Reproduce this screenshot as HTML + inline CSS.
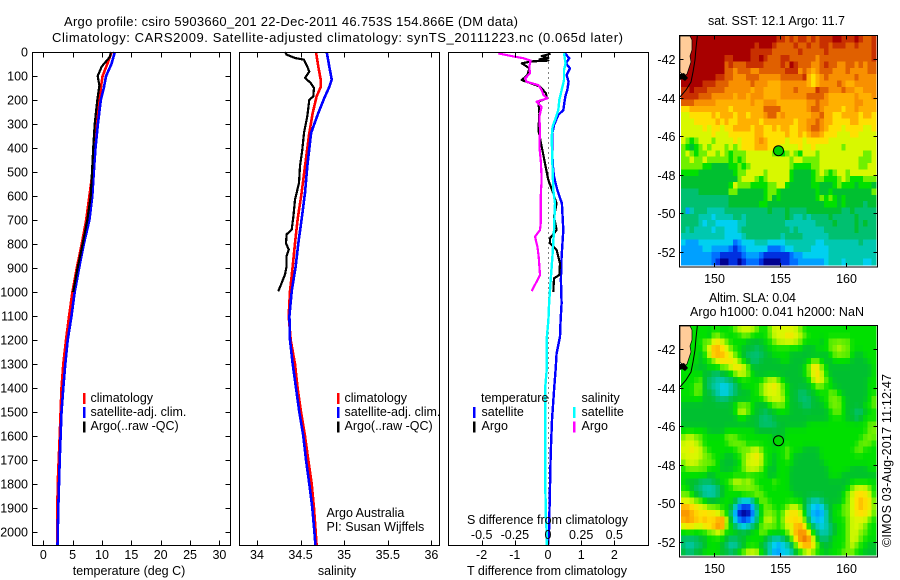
<!DOCTYPE html>
<html lang="en">
<head>
<meta charset="utf-8">
<title>Argo profile 5903660_201</title>
<style>
html,body{margin:0;padding:0;background:#fff;}
#chart{display:block;width:900px;height:580px;}
text{font-family:"Liberation Sans",Arial,sans-serif;font-size:12.5px;fill:#000;}
</style>
</head>
<body>
<svg id="chart" xmlns="http://www.w3.org/2000/svg" width="900" height="580" viewBox="0 0 900 580">
<rect x="0" y="0" width="900" height="580" fill="#fff"/>
<text x="64" y="26" font-size="13" style="font-size:13px" textLength="454">Argo profile: csiro 5903660_201 22-Dec-2011 46.753S 154.866E (DM data)</text>
<text x="52" y="42" style="font-size:13px" textLength="571">Climatology: CARS2009. Satellite-adjusted climatology: synTS_20111223.nc (0.065d later)</text>
<g id="layer-series"></g>
<text x="708" y="25" textLength="137">sat. SST: 12.1  Argo: 11.7</text>
<text x="709" y="302" textLength="87">Altim. SLA: 0.04</text>
<text x="690" y="316" textLength="174">Argo h1000: 0.041 h2000: NaN</text>
<text transform="translate(891,547) rotate(-90)" x="0" y="0" textLength="173">©IMOS 03-Aug-2017 11:12:47</text>
<text x="326.5" y="517">Argo Australia</text>
<text x="326.5" y="531">PI: Susan Wijffels</text>
</svg>
<script>
// ---- profile data: depth (m) and value arrays ----
const depthTicks = [0,100,200,300,400,500,600,700,800,900,1000,1100,1200,1300,1400,1500,1600,1700,1800,1900,2000];
const tempTicks = [0,5,10,15,20,25,30];
const salTicks = [34,34.5,35,35.5,36];
const salTickLabels = ['34','34.5','35','35.5','36'];
const tdiffTicks = [-2,-1,0,1,2];
const sdiffTicks = [-0.5,-0.25,0,0.25,0.5];
const sdiffTickLabels = ['-0.5','-0.25','0','0.25','0.5'];

const climDepth = [0,50,100,150,200,300,400,500,600,700,800,900,1000,1100,1200,1300,1400,1500,1600,1700,1800,1900,2055];
const tempClim = [11.65,10.9,10.1,9.8,9.55,9.1,8.7,8.4,7.85,7.3,6.55,5.7,4.95,4.4,3.87,3.4,3.1,2.95,2.8,2.62,2.45,2.4,2.4];
const tempSat = [12.2,11.6,10.7,10.3,9.8,9.3,8.9,8.6,8.35,7.85,6.9,6.1,5.35,4.8,4.15,3.75,3.4,3.1,2.95,2.8,2.67,2.55,2.42];
const tempArgoDepth = [0,20,33,61,100,140,200,300,400,500,600,700,800,900,1000];
const tempArgo = [11.5,11.36,10.9,9.95,9.27,9.55,9.2,8.75,8.5,8.3,8.07,7.5,6.7,5.85,5.1];

const salClimDepth = [0,61,115,146,185,254,337,476,587,698,797,893,997,1100,1200,1300,1400,1500,1600,1700,1800,1900,2000,2055];
const salClim = [34.677,34.703,34.73,34.73,34.684,34.639,34.6,34.55,34.512,34.466,34.436,34.409,34.378,34.363,34.386,34.436,34.466,34.505,34.55,34.588,34.627,34.654,34.673,34.684];
const salSat = [34.799,34.829,34.857,34.829,34.78,34.703,34.62,34.577,34.55,34.512,34.474,34.444,34.398,34.371,34.378,34.409,34.447,34.485,34.531,34.562,34.6,34.634,34.658,34.67];
const salArgoDepth = [0,11,25,32,61,82,108,129,150,185,199,268,337,407,476,546,615,685,740,760,797,823,851,893,927,962,997];
const salArgo = [34.321,34.34,34.436,34.539,34.577,34.6,34.55,34.616,34.654,34.646,34.6,34.577,34.539,34.52,34.493,34.482,34.436,34.417,34.398,34.34,34.333,34.363,34.34,34.34,34.321,34.283,34.244];

const tdiffSatDepth = [5,26,47,68,96,124,158,186,242,262,304,339,464,519,575,631,742,853,950,1047,1117,1186,1256,1325,1394,1533,1672,1811,2000,2055];
const tdiffSat = [0.51,0.64,0.54,0.66,0.56,0.62,0.58,0.52,0.46,0.31,0.18,0.13,0.14,0.18,0.28,0.42,0.46,0.41,0.39,0.41,0.38,0.36,0.26,0.23,0.19,0.12,0.08,0.06,0.03,0];
const tdiffArgoDepth = [6,8,17,25,31,36,39,47,68,96,117,124,144,172,193,207,256,325,394,464,533,589,631,686,742,776,797,825,881,929,943,999];
const tdiffArgo = [0.06,0.06,-0.19,0.01,-0.26,0.01,-0.49,-0.79,-0.56,-0.62,-0.79,-0.64,-0.24,-0.06,-0.04,-0.29,-0.26,-0.29,-0.19,-0.09,0.01,0.16,0.26,0.18,0.26,0.06,0.06,0.26,0.36,0.34,0.18,0.16];
const sdiffSatDepth = [5,47,75,117,158,200,242,283,311,353,464,575,631,742,853,950,1047,1117,1186,1256,1325,1394,1533,1672,1811,1950,2000,2055];
const sdiffSat = [0.121,0.133,0.121,0.121,0.103,0.085,0.078,0.053,0.035,0.028,0.033,0.04,0.053,0.045,0.033,0.02,0.008,0.003,-0.008,-0.01,-0.01,-0.02,-0.02,-0.02,-0.02,-0.015,-0.01,-0.008];
const sdiffArgoDepth = [6,17,26,36,61,89,110,124,138,158,179,193,207,228,269,325,394,464,533,603,714,742,769,811,853,929,964,996];
const sdiffArgo = [-0.375,-0.274,-0.186,-0.131,-0.141,-0.136,-0.173,-0.161,-0.073,-0.048,-0.035,-0.005,-0.085,-0.048,-0.065,-0.06,-0.065,-0.053,-0.048,-0.055,-0.055,-0.06,-0.098,-0.08,-0.07,-0.06,-0.093,-0.123];

// ---- map data: colour level per grid cell, 45 columns x 36 rows, north to south ----
const lonTicks = [150,155,160];
const latTicks = [-42,-44,-46,-48,-50,-52];
const levelColors = [[0,0,144],[0,48,224],[0,112,255],[0,160,255],[0,208,240],[0,200,176],[0,192,112],[0,192,48],[0,224,0],[112,240,0],[216,248,0],[255,224,0],[255,176,0],[248,144,0],[224,96,0],[200,48,0],[168,0,0]];
const sstGrid = [
[16,16,16,16,16,16,16,16,16,16,16,16,16,16,16,16,16,16,16,16,16,16,15,15,14,15,14,15,15,14,15,14,15,15,15,16,16,15,15,15,16,15,14,14,15],
[16,16,16,16,16,16,16,16,16,16,16,16,16,16,16,16,16,15,16,16,16,15,14,14,14,14,15,14,14,15,14,14,15,15,14,15,15,15,14,14,15,14,14,14,15],
[16,16,16,16,16,16,16,16,16,16,16,16,16,16,16,16,15,15,15,15,15,14,14,14,14,14,14,15,14,14,14,14,14,15,14,14,14,14,14,14,14,14,14,14,15],
[16,16,16,16,16,16,16,16,16,16,15,15,16,16,16,16,15,15,16,15,14,14,14,15,15,14,14,14,14,14,14,13,14,14,14,14,14,14,14,14,14,14,14,14,15],
[16,16,16,16,16,16,16,16,16,16,14,15,14,14,14,15,15,15,15,14,14,14,14,15,14,16,15,14,14,14,13,13,14,15,14,14,13,13,14,14,13,14,13,14,14],
[16,16,16,16,16,16,16,16,16,16,14,14,13,14,14,14,13,13,14,14,14,14,14,14,15,15,15,13,14,13,12,13,14,14,14,13,13,13,14,13,13,13,13,14,14],
[16,16,16,16,16,16,16,16,15,15,14,14,13,13,13,14,14,14,13,13,13,13,13,14,14,14,14,14,15,12,11,12,13,14,13,13,13,13,13,13,14,13,13,13,13],
[16,16,16,16,16,15,15,15,14,14,14,13,13,13,13,13,14,13,13,13,12,12,12,13,13,13,13,13,13,12,11,12,13,13,13,13,14,13,12,12,13,13,13,13,13],
[15,15,16,15,15,15,14,14,14,14,13,13,13,13,13,13,12,13,13,12,12,12,12,13,13,13,14,13,13,13,13,15,14,14,13,13,13,14,13,13,12,12,13,13,13],
[15,15,15,15,14,14,14,13,13,13,13,13,12,13,13,12,13,13,13,12,12,12,12,13,13,13,13,13,13,14,14,14,14,13,12,12,12,12,12,12,13,12,12,12,13],
[14,14,14,13,13,13,13,13,12,12,12,12,12,12,12,12,13,12,12,13,13,13,12,12,12,12,12,12,12,13,13,14,13,13,12,12,12,12,12,12,13,13,12,12,12],
[11,11,12,12,12,12,12,12,12,12,12,11,12,12,12,12,12,12,12,14,14,14,14,12,12,12,12,12,12,13,14,14,13,12,12,12,12,11,12,12,13,12,12,12,12],
[10,10,11,11,11,11,11,12,11,12,12,12,11,12,12,11,12,12,12,13,14,14,12,13,12,12,12,12,12,12,13,13,14,12,12,11,11,12,12,12,12,11,12,12,11],
[10,10,10,11,11,11,11,11,12,11,12,11,11,12,12,12,12,12,11,12,12,12,12,12,12,12,11,12,12,13,13,14,13,12,12,11,11,11,11,12,12,11,11,11,11],
[10,10,10,10,10,11,10,11,11,10,11,11,12,12,12,12,11,12,12,11,11,12,11,12,12,11,11,12,12,13,14,14,13,12,11,11,11,10,11,11,11,11,10,10,11],
[10,10,10,10,10,10,10,11,10,10,10,11,11,11,11,11,11,12,12,11,11,11,11,11,12,11,11,12,11,12,13,13,12,11,11,11,10,10,10,11,11,10,10,10,10],
[10,9,8,9,10,10,10,9,10,10,10,10,11,10,11,11,11,12,13,12,11,11,11,11,10,11,11,11,10,11,11,11,11,11,10,10,10,10,10,10,10,10,10,10,10],
[9,8,7,8,9,10,9,10,10,10,9,10,9,10,11,11,11,12,12,12,11,11,11,10,10,10,10,11,10,10,11,10,10,10,10,10,10,9,10,10,10,10,10,10,10],
[9,10,9,8,9,9,10,10,9,10,9,8,9,9,9,10,10,10,10,10,10,9,9,8,9,10,9,8,10,10,10,9,10,10,10,10,10,10,10,10,10,10,9,9,10],
[9,9,10,9,9,10,9,9,9,9,9,8,9,8,9,10,10,10,10,10,10,10,10,10,10,9,10,10,9,9,9,9,10,10,10,10,10,10,10,10,10,9,9,9,10],
[9,9,9,9,9,8,8,7,7,7,7,8,8,9,8,9,10,10,10,10,10,10,10,10,10,9,8,8,8,8,9,9,10,10,10,10,10,10,10,10,10,9,9,10,10],
[8,8,8,8,7,7,7,7,7,7,7,7,8,9,9,10,10,10,10,9,10,10,10,10,10,8,7,7,7,7,8,9,10,9,8,9,10,10,9,10,10,10,10,10,10],
[7,7,7,7,7,7,7,7,7,7,7,7,7,9,10,10,10,9,8,9,10,10,10,10,10,8,7,7,7,7,8,9,9,8,8,8,9,10,9,8,8,8,9,9,9],
[7,7,7,7,7,7,7,7,7,7,7,8,10,9,9,9,8,8,8,8,9,9,10,10,8,7,7,7,7,7,8,8,7,7,7,8,9,8,8,8,7,8,8,8,7],
[6,6,6,6,7,7,7,7,7,7,7,9,9,7,7,7,7,7,7,8,9,9,8,7,7,7,7,7,7,7,7,8,7,7,8,7,7,7,7,7,7,7,7,7,9],
[6,6,6,6,6,6,6,6,6,6,6,7,7,7,7,7,7,7,7,8,9,7,8,7,7,7,7,7,7,7,7,8,9,8,9,8,7,8,7,7,7,7,7,7,7],
[6,6,6,6,6,6,6,6,6,6,6,7,7,7,7,7,7,7,8,8,7,7,7,7,7,7,7,7,7,7,7,7,7,8,8,8,7,8,7,7,7,7,6,7,7],
[6,3,5,6,6,6,5,5,5,5,6,6,6,6,6,6,6,6,6,6,7,6,6,6,7,6,6,6,6,7,7,7,7,7,7,7,7,6,6,7,6,6,6,6,6],
[6,6,6,6,5,5,5,4,5,5,5,5,6,6,5,6,6,6,6,6,6,6,6,6,7,6,5,5,6,5,6,6,6,6,7,6,6,6,6,6,7,6,6,6,6],
[6,6,6,6,5,4,5,5,4,4,4,4,4,5,5,6,6,6,6,6,6,6,6,6,5,5,5,5,5,5,5,6,6,6,6,7,6,6,6,6,7,6,7,6,6],
[6,5,6,5,5,5,5,4,5,5,4,4,4,5,6,6,6,6,6,6,6,6,6,6,6,5,6,5,5,5,5,5,5,6,6,6,6,6,6,6,7,6,6,6,6],
[5,5,5,5,5,5,5,5,5,5,4,4,4,4,5,6,6,6,6,6,6,6,6,5,6,6,6,6,5,5,5,5,5,5,6,6,6,6,6,6,6,6,6,6,6],
[4,3,3,3,4,4,4,4,4,4,4,4,2,3,4,4,4,5,5,5,4,4,4,4,5,5,5,5,5,5,5,4,4,5,5,5,5,5,5,5,5,6,5,5,5],
[3,3,3,3,3,4,4,3,3,3,3,2,1,2,3,4,4,4,4,4,2,2,2,3,4,4,5,5,5,5,4,4,4,4,5,5,5,5,5,5,5,5,5,5,5],
[3,3,3,3,3,3,3,2,2,1,1,1,1,1,2,3,3,3,2,1,1,1,1,1,1,2,3,3,4,4,4,4,4,4,5,5,5,5,5,5,5,5,5,5,5],
[3,3,3,3,3,3,3,2,1,0,0,1,1,0,1,2,2,2,1,0,0,0,0,1,1,2,2,3,3,3,3,3,3,4,5,5,5,4,5,5,5,5,4,4,5]
];
const slaGrid = [
[8,8,8,8,8,8,8,8,8,8,8,8,9,10,10,10,10,9,8,8,9,10,10,10,10,10,10,9,8,8,8,8,8,8,8,8,8,8,8,8,8,8,8,8,8],
[8,8,8,8,8,8,7,9,9,8,8,8,8,8,9,9,8,8,8,8,9,10,10,10,11,11,10,10,9,8,8,8,8,8,8,8,8,8,8,8,8,8,8,8,8],
[8,8,8,8,8,9,9,10,11,10,9,8,8,8,8,7,7,7,7,8,8,9,10,10,10,10,10,9,8,8,8,8,7,8,9,9,9,9,9,8,8,8,8,8,8],
[8,8,8,8,8,9,10,12,12,11,10,9,8,8,7,7,7,6,7,7,8,8,8,8,8,8,8,8,7,7,7,8,8,8,9,9,10,9,9,8,8,8,8,8,8],
[8,8,8,8,7,8,10,12,12,12,11,10,9,8,7,6,6,6,6,7,7,8,8,8,8,7,7,7,7,7,7,7,7,7,8,9,9,9,9,8,7,7,8,8,8],
[8,8,8,8,7,8,8,9,10,11,11,11,10,9,8,7,6,6,7,7,7,7,7,8,8,7,7,7,7,8,9,9,8,7,7,8,8,8,8,7,7,7,7,8,8],
[8,8,8,7,7,7,8,8,8,9,9,10,11,11,10,9,7,7,7,7,7,7,7,7,7,7,7,7,8,9,11,11,9,8,7,7,7,7,7,7,7,7,7,7,8],
[8,8,8,8,8,7,7,6,6,7,7,8,9,10,10,9,8,7,7,7,7,7,7,7,7,7,7,7,8,9,10,11,10,8,7,7,7,7,7,7,7,7,7,7,8],
[8,8,8,8,9,7,6,6,5,5,6,6,7,8,8,8,8,8,8,9,10,10,9,8,7,7,7,7,7,8,10,11,10,9,8,7,7,7,7,7,7,7,7,8,8],
[8,8,8,9,9,7,6,5,5,4,4,5,6,7,8,8,8,8,9,10,10,11,10,9,8,7,7,7,7,7,8,9,9,8,8,7,7,7,7,7,7,7,7,8,8],
[8,8,8,9,9,7,7,6,5,4,4,5,6,7,7,7,8,8,9,10,10,10,10,9,8,7,7,6,6,7,7,8,8,8,9,9,8,7,7,7,7,7,7,8,8],
[8,8,8,8,8,7,7,7,6,6,6,7,7,7,7,7,8,8,8,9,10,10,10,10,8,7,7,6,6,6,7,7,8,8,9,9,9,8,7,7,7,7,7,8,9],
[7,7,7,7,7,7,7,7,7,7,7,7,8,9,9,9,8,7,7,7,8,9,9,9,8,7,7,7,6,6,7,7,7,8,9,9,9,8,7,7,7,7,8,8,9],
[7,7,7,7,7,7,7,7,7,7,7,7,8,10,10,9,8,7,7,6,7,7,8,8,8,7,7,7,7,7,7,7,7,7,8,9,9,8,7,7,6,6,7,8,8],
[7,7,7,7,7,7,7,7,7,7,7,7,7,8,8,7,7,7,6,6,6,7,7,7,7,7,7,7,7,7,7,7,7,7,8,8,8,8,7,7,6,7,8,8,8],
[7,7,7,7,7,7,7,7,7,7,7,7,7,7,7,7,7,7,6,6,6,6,7,7,7,7,7,7,7,8,8,8,8,8,8,8,8,8,8,8,8,8,8,9,9],
[8,8,8,8,8,8,7,7,7,7,8,8,8,8,8,8,8,7,7,7,7,7,7,7,8,8,8,8,8,8,8,8,8,8,8,8,8,8,8,8,8,8,8,9,9],
[9,10,10,9,9,8,8,8,8,8,9,9,9,8,8,8,8,8,8,8,8,7,7,7,8,8,8,8,8,8,8,8,8,8,8,8,8,8,8,8,8,8,9,9,9],
[10,10,10,10,9,8,8,8,8,8,8,9,9,9,9,8,8,8,8,8,8,7,8,8,8,8,8,8,8,8,8,8,8,8,8,8,8,8,8,8,8,9,9,9,8],
[10,10,11,10,10,9,8,8,8,8,8,8,8,9,9,9,10,10,9,8,8,8,8,8,9,8,8,8,7,7,7,7,8,8,8,8,8,8,8,8,9,9,8,8,8],
[10,10,10,10,10,9,9,8,8,8,7,7,8,8,9,10,10,11,10,8,8,7,8,8,9,8,7,7,7,7,7,7,8,8,8,8,8,8,8,8,8,8,8,8,8],
[9,10,10,10,9,9,9,9,8,7,7,7,7,8,9,10,10,10,10,8,8,7,8,8,8,8,7,7,7,7,7,7,7,8,8,8,8,8,8,8,8,8,8,8,8],
[8,9,9,9,9,9,8,8,8,7,7,7,8,8,9,10,10,10,9,8,7,7,8,8,8,7,7,7,7,7,7,7,7,7,8,8,8,8,8,7,7,7,7,8,8],
[8,8,8,8,8,8,7,7,8,8,8,8,8,8,8,8,8,8,8,8,7,7,8,8,8,7,7,7,7,7,7,7,7,7,8,8,8,7,7,7,7,7,7,7,7],
[8,7,7,7,6,6,6,7,7,8,8,9,10,10,9,10,9,8,8,8,8,9,8,8,8,7,7,7,7,7,7,7,7,7,7,7,7,7,7,8,8,8,8,8,8],
[8,8,7,6,6,5,5,5,6,7,8,8,9,9,9,9,9,9,8,8,8,8,8,8,8,7,7,7,7,7,7,7,7,7,7,7,7,7,8,9,10,10,10,9,8],
[9,9,8,7,6,5,5,5,6,7,8,8,8,8,9,9,9,9,9,8,8,8,8,8,8,8,7,7,7,7,7,7,7,7,7,7,7,8,9,10,11,11,11,10,8],
[10,10,10,9,9,8,7,7,7,8,8,8,7,5,4,4,5,8,9,9,8,8,8,8,8,8,8,8,7,6,5,5,6,7,7,7,7,8,9,10,11,12,11,11,9],
[12,12,11,11,10,10,9,9,9,8,8,7,5,2,1,1,3,6,8,9,9,8,8,8,9,10,10,9,7,5,4,3,4,6,7,8,8,9,9,10,11,12,11,11,9],
[13,13,12,11,11,11,11,11,10,9,8,6,3,0,0,0,2,5,8,9,9,9,8,9,10,11,11,10,8,5,3,3,3,5,7,8,8,9,9,10,11,11,11,10,9],
[12,13,12,12,11,12,11,11,12,13,10,7,4,2,1,2,3,6,8,10,10,9,8,9,11,11,11,11,9,6,4,3,4,5,7,8,8,8,9,10,10,10,10,9,8],
[10,11,11,10,10,11,11,12,13,13,9,8,6,5,4,5,6,7,9,9,9,9,8,9,10,10,12,12,11,8,6,5,4,5,6,7,8,8,9,10,10,10,9,8,8],
[8,8,8,8,8,8,9,9,10,9,8,8,8,7,7,7,8,8,9,9,8,8,8,8,9,10,12,13,13,11,8,6,5,5,6,7,8,8,9,10,10,9,9,8,8],
[6,6,6,6,7,7,8,8,8,8,7,6,6,7,7,8,8,8,8,7,6,5,5,6,7,9,11,13,14,13,10,7,6,6,7,8,8,8,9,10,10,9,8,8,8],
[6,5,5,6,6,7,8,8,8,7,6,5,5,6,7,8,8,8,7,6,5,4,3,4,5,6,9,11,12,12,11,9,7,7,7,8,8,8,9,10,9,8,8,7,7],
[7,6,6,7,7,8,8,8,8,7,7,6,7,8,9,10,10,10,8,7,5,3,3,4,4,5,7,8,9,10,9,8,8,7,8,8,8,9,9,9,8,8,7,7,7]
];
const argoLon = 154.866;
const argoLat = -46.753;

// ---- axis functions ----
const NS = 'http://www.w3.org/2000/svg';
const root = document.getElementById('layer-series');
function yDepth(d){ return 52 + d * 0.24; }
function xTemp(t){ return 43.3 + t * 5.87; }
function xSal(s){ return 257 + (s - 34) * 87.2; }
function xTdiff(t){ return 548 + t * 33.2; }
function xSdiff(s){ return 548 + s * 132.6; }
function xLon(lon){ return 714.3 + (lon - 150) * 13.2; }
function yLat(lat, top){ return top + 24 + (-42 - lat) * 19.3; }
function levelColor(v){
  const c = Math.max(0, Math.min(levelColors.length - 1, v));
  const lo = Math.floor(c), hi = Math.min(levelColors.length - 1, lo + 1), f = c - lo;
  const a = levelColors[lo], b = levelColors[hi];
  return 'rgb(' + [0,1,2].map(i => Math.round(a[i] + (b[i] - a[i]) * f)).join(',') + ')';
}
// the altimetry field is a smooth interpolated product: soften each cell with its neighbours
function softened(grid, r, c){
  let sum = grid[r][c] * 4, n = 4;
  [[r-1,c],[r+1,c],[r,c-1],[r,c+1]].forEach(p => {
    if(grid[p[0]] && grid[p[0]][p[1]] !== undefined){ sum += grid[p[0]][p[1]]; n += 1; }
  });
  return sum / n;
}

function node(tag){ return document.createElementNS(NS, tag); }
function drawTick(x1,y1,x2,y2){
  const t = node('line');
  t.setAttribute('x1',x1); t.setAttribute('y1',y1); t.setAttribute('x2',x2); t.setAttribute('y2',y2);
  t.setAttribute('stroke','#000'); t.setAttribute('stroke-width','1'); t.setAttribute('shape-rendering','crispEdges');
  
  
  root.appendChild(t);
}
function drawLabel(x,y,str,anchor,name){
  const t = node('text');
  t.setAttribute('x',x); t.setAttribute('y',y);
  if(anchor) t.setAttribute('text-anchor',anchor);
  t.textContent = str;
  
  
  root.appendChild(t);
}
function drawFrame(x,y,w,h,name){
  const r = node('rect');
  r.setAttribute('x',x); r.setAttribute('y',y); r.setAttribute('width',w); r.setAttribute('height',h);
  r.setAttribute('fill','none'); r.setAttribute('stroke','#000'); r.setAttribute('stroke-width','1'); r.setAttribute('shape-rendering','crispEdges');
  
  
  root.appendChild(r);
}
function drawProfile(depths, values, xFn, color, width, name){
  const p = node('polyline');
  p.setAttribute('points', depths.map((d,i)=> xFn(values[i]).toFixed(1)+','+yDepth(d).toFixed(1)).join(' '));
  p.setAttribute('fill','none'); p.setAttribute('stroke',color); p.setAttribute('stroke-width',width);
  p.setAttribute('shape-rendering','crispEdges'); p.setAttribute('stroke-linejoin','round');
  
  
  root.appendChild(p);
}
function drawKey(x,y,color,name){
  const r = node('rect');
  r.setAttribute('x',x); r.setAttribute('y',y); r.setAttribute('width',2.5); r.setAttribute('height',11);
  r.setAttribute('fill',color); r.setAttribute('shape-rendering','crispEdges');
  
  
  root.appendChild(r);
}

// ---- profile panels ----
const panelTop = 52.5, panelH = 493;
function panelTicks(left,width,xs,fn,yticks){
  xs.forEach(v=>{
    const x = Math.round(fn(v)) + 0.5;
    drawTick(x,panelTop,x,panelTop+5);
    drawTick(x,panelTop+panelH,x,panelTop+panelH-5);
  });
  if(yticks){
    depthTicks.forEach(d=>{
      const y = Math.round(yDepth(d)) + 0.5;
      drawTick(left,y,left+5,y);
      drawTick(left+width,y,left+width-5,y);
    });
  }
}
// temperature
drawProfile(climDepth,tempClim,xTemp,'#ff0000',2.6,'temperature-climatology-line');
drawProfile(climDepth,tempSat,xTemp,'#0000ff',2.6,'temperature-satellite-line');
drawProfile(tempArgoDepth,tempArgo,xTemp,'#000000',2.2,'temperature-argo-line');
drawFrame(32.5,panelTop,198,panelH,'temperature-panel-frame');
panelTicks(32.5,198,tempTicks,xTemp,true);
depthTicks.forEach(d=>{ drawLabel(28,yDepth(d)+4.5,String(d),'end','depth-tick-label'); });
tempTicks.forEach(t=>{ drawLabel(xTemp(t),559,String(t),'middle','temperature-tick-label'); });
drawLabel(129,575,'temperature (deg C)','middle','temperature-axis-title');
drawKey(83,393,'#ff0000','legend-climatology-key');
drawKey(83,407,'#0000ff','legend-satellite-key');
drawKey(83,421.5,'#000000','legend-argo-key');
drawLabel(90.5,402,'climatology',null,'legend-climatology');
drawLabel(90.5,416,'satellite-adj. clim.',null,'legend-satellite');
drawLabel(90.5,430,'Argo(..raw -QC)',null,'legend-argo');
// salinity
drawProfile(salClimDepth,salClim,xSal,'#ff0000',2.6,'salinity-climatology-line');
drawProfile(salClimDepth,salSat,xSal,'#0000ff',2.6,'salinity-satellite-line');
drawProfile(salArgoDepth,salArgo,xSal,'#000000',2.2,'salinity-argo-line');
drawFrame(239.5,panelTop,200,panelH,'salinity-panel-frame');
panelTicks(239.5,200,salTicks,xSal,false);
salTicks.forEach((s,i)=>{ drawLabel(xSal(s),559,salTickLabels[i],'middle','salinity-tick-label'); });
drawLabel(337,575,'salinity','middle','salinity-axis-title');
drawKey(337,393,'#ff0000','legend-sal-climatology-key');
drawKey(337,407,'#0000ff','legend-sal-satellite-key');
drawKey(337,421.5,'#000000','legend-sal-argo-key');
drawLabel(344.5,402,'climatology',null,'legend-sal-climatology');
drawLabel(344.5,416,'satellite-adj. clim.',null,'legend-sal-satellite');
drawLabel(344.5,430,'Argo(..raw -QC)',null,'legend-sal-argo');
// differences
const zeroLine = node('line');
zeroLine.setAttribute('x1',xTdiff(0)+0.5); zeroLine.setAttribute('x2',xTdiff(0)+0.5);
zeroLine.setAttribute('y1',panelTop); zeroLine.setAttribute('y2',panelTop+panelH);
zeroLine.setAttribute('stroke','#000'); zeroLine.setAttribute('stroke-dasharray','1 4'); zeroLine.setAttribute('shape-rendering','crispEdges');


root.appendChild(zeroLine);
drawProfile(tdiffSatDepth,tdiffSat,xTdiff,'#0000ff',2.4,'temp-diff-satellite-line');
drawProfile(tdiffArgoDepth,tdiffArgo,xTdiff,'#000000',2.2,'temp-diff-argo-line');
drawProfile(sdiffSatDepth,sdiffSat,xSdiff,'#00ffff',2.4,'sal-diff-satellite-line');
drawProfile(sdiffArgoDepth,sdiffArgo,xSdiff,'#ff00ff',2.2,'sal-diff-argo-line');
drawFrame(448.5,panelTop,200,panelH,'difference-panel-frame');
panelTicks(448.5,200,tdiffTicks,xTdiff,false);
tdiffTicks.forEach(t=>{ drawLabel(xTdiff(t),559,String(t),'middle','t-diff-tick-label'); });
sdiffTicks.forEach((s,i)=>{ drawLabel(xSdiff(s),539,sdiffTickLabels[i],'middle','s-diff-tick-label'); });
drawLabel(547.5,524,'S difference from climatology','middle','s-diff-axis-title');
drawLabel(547,575,'T difference from climatology','middle','t-diff-axis-title');
drawLabel(481,402,'temperature',null,'legend-diff-temperature-heading');
drawLabel(581.5,402,'salinity',null,'legend-diff-salinity-heading');
drawLabel(481.5,416,'satellite',null,'legend-diff-t-satellite');
drawLabel(481.5,430,'Argo',null,'legend-diff-t-argo');
drawLabel(581.5,416,'satellite',null,'legend-diff-s-satellite');
drawLabel(581.5,430,'Argo',null,'legend-diff-s-argo');
drawKey(473,407,'#0000ff','legend-diff-t-satellite-key');
drawKey(473,421.5,'#000000','legend-diff-t-argo-key');
drawKey(573,407,'#00ffff','legend-diff-s-satellite-key');
drawKey(573,421.5,'#ff00ff','legend-diff-s-argo-key');

// ---- maps ----
const cellW = 195 / 45, cellH = 228.7 / 36, mapLeft = 681;
function drawMap(grid, top, name, markerFill, smooth){
  grid.forEach((row,r)=>{
    row.forEach((v,c)=>{
      const cell = node('rect');
      cell.setAttribute('x',(mapLeft + c*cellW).toFixed(2));
      cell.setAttribute('y',(top + 1 + r*cellH).toFixed(2));
      cell.setAttribute('width',(cellW+0.6).toFixed(2));
      cell.setAttribute('height',(cellH+0.6).toFixed(2));
      cell.setAttribute('fill',levelColor(smooth ? softened(grid,r,c) : v));
      cell.setAttribute('shape-rendering','crispEdges');
      
      
      root.appendChild(cell);
    });
  });
  const dy = top - 35;
  const land = node('polygon');
  land.setAttribute('points',[[680,36],[690,36],[692,40],[692,50],[690,56],[691,62],[689,68],[687,74],[684,76],[682,74],[680,72]].map(p=>p[0]+','+(p[1]+dy)).join(' '));
  land.setAttribute('fill','#ffcc99');
  land.setAttribute('stroke','#000');
  land.setAttribute('stroke-width','0.7');
  
  
  root.appendChild(land);
  const blob = node('polygon');
  blob.setAttribute('points',[[680,74],[684,73],[688,78],[685,81],[682,79],[680,80]].map(p=>p[0]+','+(p[1]+dy)).join(' '));
  blob.setAttribute('fill','#000');
  
  
  root.appendChild(blob);
  const contour = node('polyline');
  contour.setAttribute('points',[[697.3,36],[696,48],[695,60],[693,72],[691,82],[686,90],[680,97]].map(p=>p[0]+','+(p[1]+dy)).join(' '));
  contour.setAttribute('fill','none');
  contour.setAttribute('stroke','#000');
  contour.setAttribute('stroke-width','1');
  
  
  root.appendChild(contour);
  drawFrame(679.5,top+0.5,198,231.5,name + '-frame');
  lonTicks.forEach(lon=>{
    const x = Math.round(xLon(lon)) + 0.5;
    drawTick(x,top+0.5,x,top+4.5);
    drawTick(x,top+232,x,top+228);
    drawLabel(x,top+248,String(lon),'middle',name + '-lon-label');
  });
  latTicks.forEach(lat=>{
    const y = Math.round(yLat(lat,top)) + 0.5;
    drawTick(679.5,y,683.5,y);
    drawTick(877.5,y,873.5,y);
    drawLabel(675.5,y+4.5,String(lat),'end',name + '-lat-label');
  });
  const marker = node('circle');
  marker.setAttribute('cx',xLon(argoLon).toFixed(1));
  marker.setAttribute('cy',yLat(argoLat,top).toFixed(1));
  marker.setAttribute('r',5);
  marker.setAttribute('fill',markerFill);
  marker.setAttribute('stroke','#000');
  marker.setAttribute('stroke-width','1');
  
  
  root.appendChild(marker);
}
drawMap(sstGrid,35,'sst-map','#00d000',false);
drawMap(slaGrid,325,'sla-map','#00d800',true);
</script>
</body>
</html>
